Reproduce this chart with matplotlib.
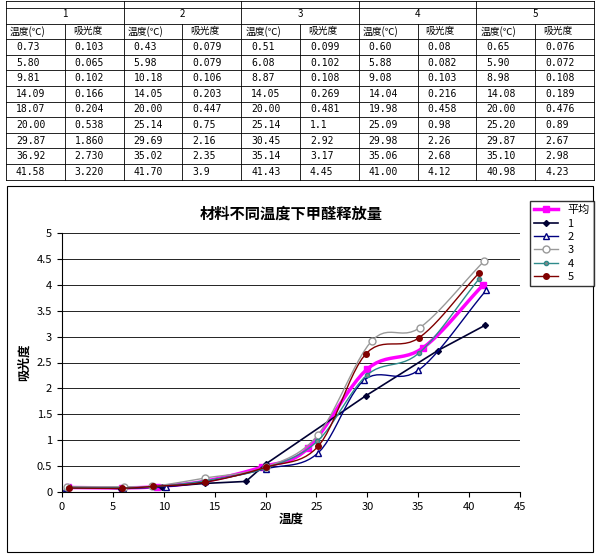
import numpy as np
import matplotlib
matplotlib.use("Agg")
import matplotlib.pyplot as plt
from matplotlib.lines import Line2D

plt.rcParams['font.family'] = ['Noto Sans CJK SC', 'DejaVu Sans']

groups = ["1", "2", "3", "4", "5"]
t1 = ["0.73","5.80","9.81","14.09","18.07","20.00","29.87","36.92","41.58"]
a1 = ["0.103","0.065","0.102","0.166","0.204","0.538","1.860","2.730","3.220"]
t2 = ["0.43","5.98","10.18","14.05","20.00","25.14","29.69","35.02","41.70"]
a2 = ["0.079","0.079","0.106","0.203","0.447","0.75","2.16","2.35","3.9"]
t3 = ["0.51","6.08","8.87","14.05","20.00","25.14","30.45","35.14","41.43"]
a3 = ["0.099","0.102","0.108","0.269","0.481","1.1","2.92","3.17","4.45"]
t4 = ["0.60","5.88","9.08","14.04","19.98","25.09","29.98","35.06","41.00"]
a4 = ["0.08","0.082","0.103","0.216","0.458","0.98","2.26","2.68","4.12"]
t5 = ["0.65","5.90","8.98","14.08","20.00","25.20","29.87","35.10","40.98"]
a5 = ["0.076","0.072","0.108","0.189","0.476","0.89","2.67","2.98","4.23"]
t_avg = [0.60, 5.93, 9.38, 14.06, 19.61, 24.15, 29.97, 35.45, 41.34]
a_avg = [0.087, 0.080, 0.105, 0.209, 0.480, 0.84, 2.37, 2.78, 3.99]

fig = plt.figure(figsize=(6.0, 5.56), dpi=100)
W, H = 600, 556

# ---------- table ----------
tab = fig.add_axes([0, 0, 1, 1])
tab.set_xlim(0, W); tab.set_ylim(H, 0); tab.axis('off')
x0, x1 = 6, 594
colw = (x1 - x0) / 10
ytop, rh = 8, 15.6
nrows = 11
for i in range(nrows + 1):
    y = ytop + i * rh
    tab.plot([x0, x1], [y, y], color='black', lw=0.6)
tab.plot([x0, x1], [1, 1], color='black', lw=0.6)
for j in range(11):
    x = x0 + j * colw
    tab.plot([x, x], [1 if j % 2 == 0 else ytop + rh, ytop + nrows * rh], color='black', lw=0.6)
for g in range(5):
    tab.text(x0 + (2 * g + 1) * colw, ytop + rh / 2 - 2, groups[g], ha='center', va='center', fontsize=7)
    tab.text(x0 + 2 * g * colw + 4, ytop + 1.5 * rh, "温度(℃)", ha='left', va='center', fontsize=7)
    tab.text(x0 + (2 * g + 1) * colw + 8, ytop + 1.5 * rh, "吸光度", ha='left', va='center', fontsize=7)
cols = [t1, a1, t2, a2, t3, a3, t4, a4, t5, a5]
for j, c in enumerate(cols):
    for i, v in enumerate(c):
        tab.text(x0 + j * colw + 10, ytop + (i + 2.5) * rh, v, ha='left', va='center',
                 fontsize=7, family='DejaVu Sans Mono')

# chart border
tab.add_patch(plt.Rectangle((7, 186), 586, 366, fill=False, lw=0.8, color='black'))

# ---------- chart ----------
ax = fig.add_axes([62 / W, 1 - 492 / H, (520 - 62) / W, (492 - 233) / H])

def smooth(x, y, n=12):
    x = np.asarray(x, float); y = np.asarray(y, float)
    px = np.concatenate([[2*x[0]-x[1]], x, [2*x[-1]-x[-2]]])
    py = np.concatenate([[2*y[0]-y[1]], y, [2*y[-1]-y[-2]]])
    xs, ys = [], []
    t = np.linspace(0, 1, n, endpoint=False)
    for k in range(1, len(px) - 2):
        p0, p1, p2, p3 = [np.array([px[m], py[m]]) for m in (k-1, k, k+1, k+2)]
        for tt in t:
            pt = 0.5 * ((2*p1) + (-p0+p2)*tt + (2*p0-5*p1+4*p2-p3)*tt**2 + (-p0+3*p1-3*p2+p3)*tt**3)
            xs.append(pt[0]); ys.append(pt[1])
    xs.append(x[-1]); ys.append(y[-1])
    return xs, ys

f = lambda l: [float(v) for v in l]
series = [
    ("平均", t_avg, a_avg, '#FF00FF', 's', '#FF00FF', 2.5, 5),
    ("1", f(t1), f(a1), '#000033', 'D', '#000033', 1.2, 3),
    ("2", f(t2), f(a2), '#000080', '^', 'white', 1.0, 5),
    ("3", f(t3), f(a3), '#999999', 'o', 'white', 1.0, 5),
    ("4", f(t4), f(a4), '#2E8B8B', 'o', '#888888', 1.0, 3),
    ("5", f(t5), f(a5), '#800000', 'o', '#800000', 1.0, 4),
]
handles = []
for name, x, y, c, m, fc, lw, ms in series:
    if name == "1":
        ax.plot(x, y, color=c, lw=lw)
    else:
        sx, sy = smooth(x, y)
        ax.plot(sx, sy, color=c, lw=lw)
    ax.plot(x, y, ls='none', marker=m, mfc=fc, mec=c, ms=ms)
    handles.append(Line2D([], [], color=c, lw=lw, marker=m, mfc=fc, mec=c, ms=ms, label=name))

ax.set_xlim(0, 45); ax.set_ylim(0, 5)
ax.set_xticks(range(0, 46, 5)); ax.set_yticks(np.arange(0, 5.01, 0.5))
ax.set_yticklabels(["0", "0.5", "1", "1.5", "2", "2.5", "3", "3.5", "4", "4.5", "5"])
ax.tick_params(labelsize=8)
ax.grid(axis='y', color='black', lw=0.6)
ax.set_axisbelow(True)
for s in ['top', 'right']:
    ax.spines[s].set_visible(False)
ax.set_title("材料不同温度下甲醛释放量", fontsize=11, fontweight='bold', pad=10)
ax.set_xlabel("温度", fontsize=9, fontweight='bold', labelpad=1)
ax.set_ylabel("吸光度", fontsize=9, fontweight='bold')
fig.legend(handles=handles, loc='upper left', bbox_to_anchor=(524 / W, 1 - 195 / H),
           fontsize=8, frameon=True, edgecolor='black', fancybox=False,
           handlelength=2.2, borderpad=0.4, labelspacing=0.3)

fig.savefig("out.png", dpi=100)
